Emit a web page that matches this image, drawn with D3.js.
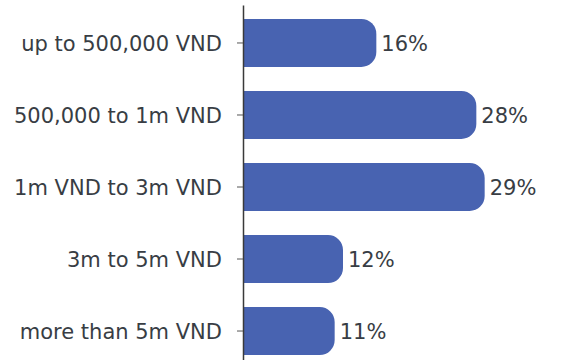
<!DOCTYPE html>
<html>
<head>
<meta charset="utf-8">
<script src="https://cdn.jsdelivr.net/npm/d3@7"></script>
<style>
  html, body { margin: 0; padding: 0; background: #fff; }
  svg { display: block; }
</style>
</head>
<body>
<svg id="chart" width="561" height="360"></svg>
<script>
// Monthly spending brackets and the share of respondents in each
const categories = [
  "up to 500,000 VND",
  "500,000 to 1m VND",
  "1m VND to 3m VND",
  "3m to 5m VND",
  "more than 5m VND"
];
const shares = [16, 28, 29, 12, 11];

const width = 561, height = 360;
const axisX = 243;
const barColor = "#4863b1";
const textColor = "#383d44";
const fontFamily = "'DejaVu Sans', sans-serif";

const svg = d3.select("#chart");

const x = d3.scaleLinear().domain([0, 30]).range([axisX, axisX + 250]);
const y = d3.scaleBand()
  .domain(categories)
  .range([5, 369])
  .paddingInner(0.333)
  .paddingOuter(0.194);

// bar with square left edge and rounded right end
function barPath(x0, x1, y0, h, r) {
  r = Math.min(r, (x1 - x0), h / 2);
  return `M${x0},${y0}H${x1 - r}A${r},${r} 0 0 1 ${x1},${y0 + r}` +
         `V${y0 + h - r}A${r},${r} 0 0 1 ${x1 - r},${y0 + h}H${x0}Z`;
}

const rows = categories.map((c, i) => ({ cat: c, val: shares[i] }));

svg.append("g")
  .selectAll("path")
  .data(rows)
  .join("path")
  .attr("d", d => barPath(x(0), x(d.val), y(d.cat), y.bandwidth(), 15))
  .attr("fill", barColor);

// value labels at the end of each bar
svg.append("g")
  .selectAll("text")
  .data(rows)
  .join("text")
  .attr("x", d => x(d.val) + 5)
  .attr("y", d => y(d.cat) + y.bandwidth() / 2)
  .attr("dy", "0.36em")
  .attr("font-family", fontFamily)
  .attr("font-size", 21)
  .attr("fill", textColor)
  .text(d => d.val + "%");

// category axis
const axis = svg.append("g")
  .attr("transform", `translate(${axisX},0)`)
  .call(d3.axisLeft(y).tickSize(6).tickSizeOuter(0).tickPadding(15));

axis.select(".domain").attr("stroke", "#3a3a3a").attr("stroke-width", 1.5);
axis.selectAll(".tick line").attr("stroke", "#555");
axis.selectAll(".tick text")
  .attr("font-family", fontFamily)
  .attr("font-size", 21)
  .attr("dy", "0.36em")
  .attr("fill", textColor);
</script>
</body>
</html>
